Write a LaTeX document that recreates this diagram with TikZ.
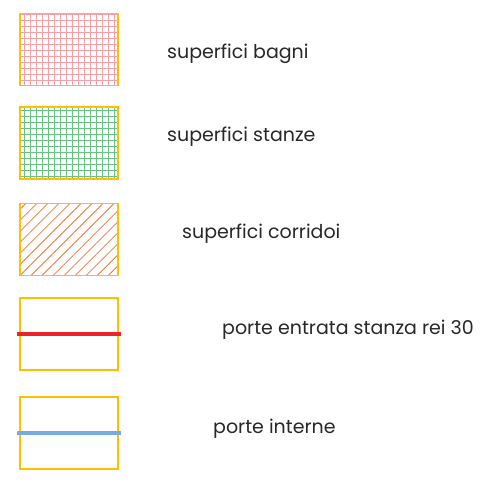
\documentclass[tikz,border=0pt]{standalone}
\usepackage{fontspec}
\setmainfont{Poppins}
\usepackage{tikz}
\usetikzlibrary{patterns.meta}
\definecolor{boxyellow}{RGB}{255,192,0}
\definecolor{gridpink}{RGB}{244,160,164}
\definecolor{gridgreen}{RGB}{40,170,80}
\definecolor{hatchorange}{RGB}{240,120,60}
\definecolor{doorred}{RGB}{236,36,40}
\definecolor{doorblue}{RGB}{120,172,224}
\definecolor{txtgray}{RGB}{40,40,40}

\begin{document}
\begin{tikzpicture}[x=1pt,y=-1pt,
  keybox/.style={draw=boxyellow,line width=1.5pt,minimum width=98pt,
                 minimum height=72pt,inner sep=0pt},
  lbl/.style={anchor=base west,inner sep=0pt,text=txtgray,font=\fontsize{19}{22}\selectfont},
  door/.style={line width=3.5pt}]
  \useasboundingbox (0,0) rectangle (493,483);
  \node[keybox,pattern={Hatch[distance=6pt,line width=1pt]},pattern color=gridpink] (bagni) at (69,49.5) {};
  \node[keybox,pattern={Hatch[distance=6pt,line width=1pt]},pattern color=gridgreen!70] (stanze) at (69,143) {};
  \node[keybox,pattern={Lines[angle=45,distance=7.8pt,line width=0.8pt]},pattern color=hatchorange] (corr) at (69,239.5) {};
  \node[keybox] (rei) at (69,334) {};
  \node[keybox] (int) at (69,433) {};
  \draw[door,doorred] ([xshift=-2pt]rei.west) -- ([xshift=2pt]rei.east);
  \draw[door,doorblue] ([xshift=-2pt]int.west) -- ([xshift=2pt]int.east);
  \node[lbl] (lbagni) at (167,58) {superfici bagni};
  \node[lbl] (lstanze) at (167,141) {superfici stanze};
  \node[lbl] (lcorr) at (182,238) {superfici corridoi};
  \node[lbl] (lrei) at (222,334) {porte entrata stanza rei 30};
  \node[lbl] (lint) at (213,433) {porte interne};
\end{tikzpicture}
\end{document}
